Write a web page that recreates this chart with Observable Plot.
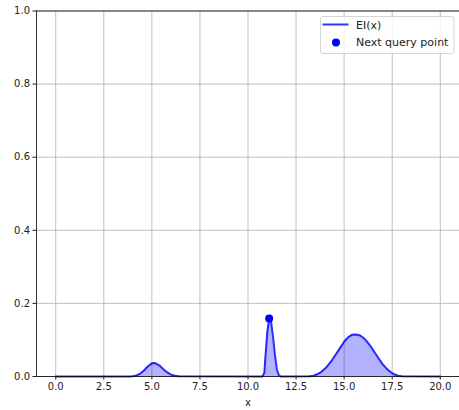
<!DOCTYPE html>
<html>
<head>
<meta charset="utf-8">
<script src="https://cdn.jsdelivr.net/npm/d3@7"></script>
<script src="https://cdn.jsdelivr.net/npm/@observablehq/plot@0.6"></script>
<style>
  body { margin: 0; background: #fff; }
  #chart svg { display: block; }
</style>
</head>
<body>
<div id="chart"></div>
<script>
// EI(x) curve
const eiX = [0, 3.8, 4.0, 4.2, 4.4, 4.6, 4.8, 5.0, 5.1, 5.2, 5.4, 5.6, 5.8, 6.0, 6.2, 6.4,
  10.75, 10.85, 10.9, 11.0, 11.1, 11.15, 11.2, 11.3, 11.4, 11.5, 11.6, 11.7,
  13.2, 13.4, 13.6, 13.8, 14.0, 14.2, 14.4, 14.6, 14.8, 15.0, 15.2, 15.4, 15.6, 15.8,
  16.0, 16.2, 16.4, 16.6, 16.8, 17.0, 17.2, 17.4, 17.6, 17.8, 18.0, 20];
const eiY = [0, 0, 0.001, 0.003, 0.008, 0.017, 0.028, 0.036, 0.037, 0.036, 0.030, 0.020, 0.011, 0.005, 0.002, 0.0005,
  0, 0.01, 0.05, 0.12, 0.158, 0.159, 0.15, 0.11, 0.06, 0.02, 0.004, 0,
  0.0005, 0.002, 0.006, 0.012, 0.021, 0.033, 0.047, 0.063, 0.079, 0.095, 0.107, 0.114, 0.115, 0.113,
  0.106, 0.095, 0.081, 0.065, 0.049, 0.034, 0.022, 0.013, 0.006, 0.002, 0.0005, 0];
const nextX = [11.1];
const nextY = [0.159];
const xTicks = [0, 2.5, 5, 7.5, 10, 12.5, 15, 17.5, 20];
const yTicks = [0, 0.2, 0.4, 0.6, 0.8, 1.0];
const legendLabels = ["EI(x)", "Next query point"];

const curve = eiX.map((x, i) => ({x, y: eiY[i]}));
const next = nextX.map((x, i) => ({x, y: nextY[i]}));

const font = "DejaVu Sans, sans-serif";
const plot = Plot.plot({
  width: 459,
  height: 410,
  marginLeft: 36,
  marginRight: 0,
  marginTop: 10.5,
  marginBottom: 34,
  style: {fontFamily: font, fontSize: "10px", color: "#222", background: "#fff"},
  x: {domain: [-1, 21], ticks: xTicks, tickFormat: d3.format(".1f"), label: null},
  y: {domain: [0, 1], ticks: yTicks, tickFormat: d3.format(".1f"), label: null},
  marks: [
    Plot.gridX(xTicks, {stroke: "#b0b0b0", strokeOpacity: 1, strokeWidth: 0.8}),
    Plot.gridY(yTicks, {stroke: "#b0b0b0", strokeOpacity: 1, strokeWidth: 0.8}),
    Plot.areaY(curve, {x: "x", y: "y", fill: "blue", fillOpacity: 0.3}),
    Plot.line(curve, {x: "x", y: "y", stroke: "blue", strokeOpacity: 0.8, strokeWidth: 2}),
    Plot.dot(next, {x: "x", y: "y", r: 4, fill: "blue"}),
    Plot.ruleX([-1], {stroke: "#000", strokeWidth: 0.8}),
    Plot.ruleY([0, 1], {stroke: "#000", strokeWidth: 0.8}),
    Plot.axisX(xTicks, {tickSize: 3.5, tickPadding: 3, tickFormat: d3.format(".1f"), fontSize: 10, label: null}),
    Plot.axisY(yTicks, {tickSize: 3.5, tickPadding: 3, tickFormat: d3.format(".1f"), fontSize: 10, label: null}),
    Plot.text(["x"], {frameAnchor: "bottom", dy: 29, fontSize: 10})
  ]
});
document.getElementById("chart").appendChild(plot);

// Legend inside the plot (upper right)
const svg = d3.select(plot);
const g = svg.append("g").attr("font-family", font).attr("font-size", 11).attr("fill", "#222")
  .attr("text-anchor", "start");
g.append("rect").attr("x", 320.5).attr("y", 16.5).attr("width", 133.5).attr("height", 37)
  .attr("rx", 2.5).attr("fill", "#fff").attr("fill-opacity", 0.8).attr("stroke", "#d6d6d6");
g.append("line").attr("x1", 322.5).attr("x2", 348.5).attr("y1", 24.5).attr("y2", 24.5)
  .attr("stroke", "blue").attr("stroke-opacity", 0.8).attr("stroke-width", 2);
g.append("text").attr("x", 356).attr("y", 25).attr("dy", "0.35em").attr("text-anchor", "start").text(legendLabels[0]);
g.append("circle").attr("cx", 336).attr("cy", 42.5).attr("r", 4).attr("fill", "blue");
g.append("text").attr("x", 356).attr("y", 42.5).attr("dy", "0.35em").attr("text-anchor", "start").text(legendLabels[1]);
</script>
</body>
</html>
